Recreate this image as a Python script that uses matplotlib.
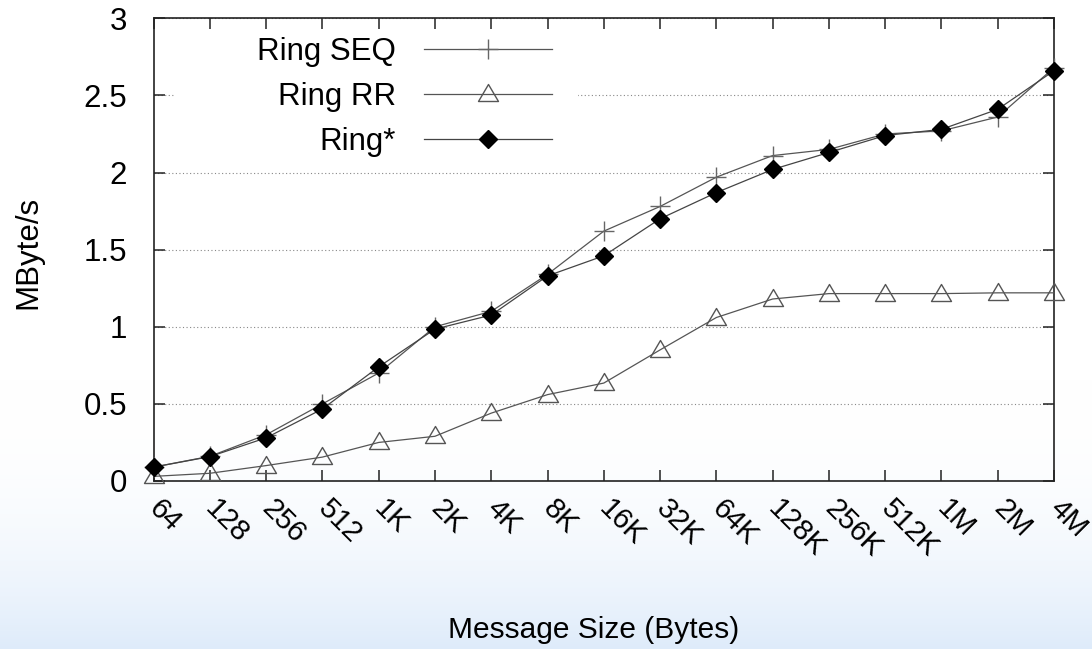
import numpy as np
import matplotlib
matplotlib.use("Agg")
import matplotlib.pyplot as plt
import matplotlib.transforms as mtransforms
from matplotlib.patches import Rectangle
from matplotlib.path import Path

plt.rcParams['font.family'] = ['Liberation Sans', 'DejaVu Sans']

# Message sizes and measured throughput (MByte/s)
sizes = ['64', '128', '256', '512', '1K', '2K', '4K', '8K', '16K', '32K',
         '64K', '128K', '256K', '512K', '1M', '2M', '4M']
ring_seq = [0.09, 0.16, 0.30, 0.50, 0.70, 1.00, 1.10, 1.34, 1.62, 1.78,
            1.97, 2.11, 2.15, 2.25, 2.27, 2.36, 2.68]
ring_rr = [0.03, 0.05, 0.10, 0.155, 0.25, 0.29, 0.44, 0.56, 0.635, 0.85,
           1.06, 1.18, 1.215, 1.215, 1.215, 1.22, 1.22]
ring_star = [0.09, 0.158, 0.28, 0.467, 0.74, 0.985, 1.076, 1.33, 1.46, 1.70,
             1.87, 2.02, 2.13, 2.24, 2.28, 2.41, 2.66]
y_ticks = [0, 0.5, 1, 1.5, 2, 2.5, 3]
y_tick_labels = ['0', '0.5', '1', '1.5', '2', '2.5', '3']

W, H = 1092, 649
fig = plt.figure(figsize=(W / 100, H / 100), dpi=100)

# soft white-to-blue backdrop
bg = fig.add_axes([0, 0, 1, 1], zorder=-10)
rows = np.arange(H)
t = np.clip((rows - 380) / (H - 380), 0, 1) ** 2.3
top = np.array([255, 255, 255]) / 255
bot = np.array([222, 235, 250]) / 255
grad = top[None, :] + (bot - top)[None, :] * t[:, None]
bg.imshow(np.repeat(grad[:, None, :], 4, axis=1), aspect='auto',
          extent=[0, 1, 0, 1], interpolation='bilinear')
bg.axis('off')

x0, x1, y0, y1 = 153.6, 1054, 18.3, 481
ax = fig.add_axes([x0 / W, 1 - y1 / H, (x1 - x0) / W, (y1 - y0) / H])
ax.set_facecolor('none')

x = np.arange(len(sizes))
tri = Path([(0, 10), (-10, -7), (10, -7), (0, 10)],
           [Path.MOVETO, Path.LINETO, Path.LINETO, Path.CLOSEPOLY])

ax.plot(x, ring_seq, color='#555555', lw=0.9, marker='+', ms=14.5,
        mec='#666666', mew=1.0, clip_on=False, zorder=3, label='Ring SEQ')
ax.plot(x, ring_rr, color='#555555', lw=0.9, marker=tri, ms=14.4,
        mfc='none', mec='#555555', mew=1.0, clip_on=False, zorder=3,
        label='Ring RR')
ax.plot(x, ring_star, color='#444444', lw=0.9, marker='D', ms=9.0,
        mfc='black', mec='black', mew=1.0, clip_on=False, zorder=4,
        label='Ring*')

ax.set_xlim(0, len(sizes) - 1)
ax.set_ylim(0, 3)
ax.set_xticks(x)
ax.set_xticklabels(sizes, rotation=-45, ha='left', va='center',
                   rotation_mode='anchor', fontsize=21)
shift = mtransforms.ScaledTranslation(-4 / 100, 0, fig.dpi_scale_trans)
for lbl in ax.get_xticklabels():
    lbl.set_transform(lbl.get_transform() + shift)
ax.set_yticks(y_ticks)
ax.set_yticklabels(y_tick_labels, fontsize=22.5)

ax.tick_params(axis='both', direction='in', length=8, width=1.1,
               color='#222222', top=True, right=True)
ax.tick_params(axis='x', pad=17)
ax.tick_params(axis='y', pad=19)
for s in ax.spines.values():
    s.set_linewidth(1.2)
    s.set_color('#222222')

ax.set_axisbelow(True)
ax.yaxis.grid(True, linestyle=(0, (1, 2.2)), color='#888888', lw=0.8)
ax.xaxis.grid(False)

# opaque key area
ax.add_patch(Rectangle((175 / W, 1 - 165 / H), (578 - 175) / W, (165 - 33) / H,
                       transform=fig.transFigure, facecolor='white',
                       edgecolor='none', zorder=0.8))

ax.legend(loc='upper right', bbox_to_anchor=(552 / W, 1 - 37 / H),
          bbox_transform=fig.transFigure, markerfirst=False, frameon=False,
          borderpad=0, borderaxespad=0, handlelength=4.1, handletextpad=0.9,
          labelspacing=0.48, fontsize=22.5)

fig.text(28 / W, 1 - 252 / H, 'MByte/s', rotation=90, ha='center',
         va='center', fontsize=22.5)
fig.text(594 / W, 1 - 638 / H, 'Message Size (Bytes)', ha='center',
         va='baseline', fontsize=21.5)

fig.savefig('out.png', dpi=100)
